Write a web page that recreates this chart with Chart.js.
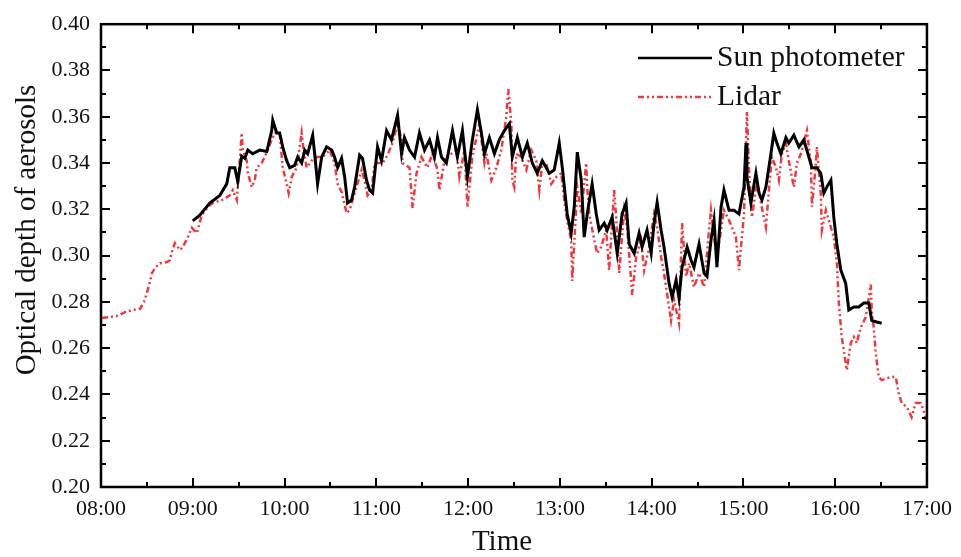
<!DOCTYPE html>
<html>
<head>
<meta charset="utf-8">
<title>Optical depth of aerosols</title>
<script src="https://cdn.jsdelivr.net/npm/chart.js@4/dist/chart.umd.min.js"></script>
<style>
  html, body { margin: 0; padding: 0; background: #fff; }
  #wrap { width: 961px; height: 557px; }
</style>
</head>
<body>
<div id="wrap"><canvas id="aodChart" width="961" height="557"></canvas></div>
<script>
// minutes after 08:00
const sunMinutes = [60, 64.6, 71.1, 77.7, 82.2, 84.2, 87.5, 89.4, 92, 94, 96, 99.2, 103.8, 108.4, 111.6, 112.3, 114.9, 116.8, 118.8, 121.4,
  123.4, 126.6, 128.6, 131.2, 133.2, 135.1, 138.4, 139.7, 141.6, 144.3, 147.5, 150.8, 152.7, 154.7, 157.3, 159.3, 161.2, 163.8, 165.8, 169.1,
  171, 173.6, 175.6, 177.6, 180.8, 183.4, 186.7, 189.9, 193.9, 196.5, 198.4, 201.7, 205, 208.2, 211.5, 214.8, 218, 220, 222.6, 225.8,
  229.8, 233, 236.3, 239.6, 242.8, 246.1, 248.7, 250.7, 253.9, 257.2, 260.4, 263.7, 267, 268.9, 272.2, 275.5, 278.7, 282, 285.2, 288.5,
  293.1, 296.3, 299.6, 301.6, 304.8, 307.4, 309.4, 311.4, 314, 315.9, 317.9, 321.1, 323.8, 325.7, 329, 330.9, 334.2, 337.5, 340.7, 343.3,
  345.3, 348.6, 351.8, 353.8, 357, 359.7, 361.6, 363.6, 366.2, 368.1, 371.4, 373.4, 376, 377.9, 379.9, 383.2, 385.8, 387.7, 391, 394.3,
  396.2, 398.8, 400.8, 402.7, 405.4, 407.3, 410.6, 413.8, 417.1, 420.4, 421.7, 422.3, 424.9, 428.2, 430.2, 432.1, 434.7, 438, 439.9, 441.9,
  444.5, 447.8, 449.7, 453, 456.3, 459.5, 462.8, 464.8, 468, 470.6, 472.6, 474.5, 477.2, 479.1, 481.1, 483.7, 486.9, 488.9, 492.2, 495.4,
  498.7, 502, 503.9, 507.2, 510.4];
const sunAod = [0.315, 0.3175, 0.3227, 0.326, 0.331, 0.338, 0.338, 0.332, 0.343, 0.342, 0.3456, 0.344, 0.3456, 0.345, 0.354, 0.3585, 0.353, 0.353, 0.347, 0.341,
  0.338, 0.339, 0.3426, 0.340, 0.3456, 0.344, 0.352, 0.344, 0.331, 0.3426, 0.347, 0.3456, 0.3426, 0.338, 0.342, 0.334, 0.3227, 0.324, 0.3296, 0.3434,
  0.342, 0.3326, 0.3283, 0.327, 0.347, 0.341, 0.354, 0.35, 0.3607, 0.344, 0.351, 0.3456, 0.3426, 0.353, 0.3456, 0.35, 0.3426, 0.351, 0.3426, 0.34,
  0.354, 0.3426, 0.354, 0.334, 0.35, 0.363, 0.353, 0.344, 0.351, 0.344, 0.35, 0.354, 0.357, 0.3426, 0.351, 0.3426, 0.3486, 0.34, 0.3356, 0.341,
  0.3356, 0.337, 0.3486, 0.338, 0.318, 0.3097, 0.321, 0.3447, 0.3326, 0.308, 0.318, 0.331, 0.318, 0.311, 0.314, 0.311, 0.3166, 0.301, 0.318, 0.3227,
  0.305, 0.301, 0.3097, 0.3037, 0.311, 0.301, 0.314, 0.323, 0.311, 0.3037, 0.288, 0.282, 0.2894, 0.2816, 0.295, 0.3037, 0.298, 0.295, 0.305, 0.2924,
  0.291, 0.3067, 0.3153, 0.295, 0.321, 0.3283, 0.3196, 0.3196, 0.318, 0.3296, 0.3486, 0.334, 0.3227, 0.3356, 0.327, 0.324, 0.3296, 0.344, 0.3529, 0.3486,
  0.344, 0.351, 0.3486, 0.352, 0.347, 0.35, 0.3426, 0.338, 0.338, 0.3356, 0.327, 0.3296, 0.3326, 0.3166, 0.305, 0.2937, 0.288, 0.2765, 0.2778, 0.2778,
  0.2795, 0.2795, 0.272, 0.2713, 0.2708];

const lidarMinutes = [0.7, 5.9, 11.1, 15.7, 20.9, 25.5, 28.1, 30, 32, 33.3, 35.2, 38.5, 43.1, 45, 46.3, 48.3, 51.6, 53.5, 56.8, 59.4,
  62.7, 65.9, 69.8, 73.1, 79, 84.2, 86.2, 88.8, 89.4, 90.7, 92, 92.7, 95.3, 96, 98.6, 100.5, 101.8, 105.1, 109, 111.6,
  113.6, 116.8, 118.8, 121.4, 122.7, 124.7, 127.9, 131.2, 132.5, 134.5, 137.7, 141, 144.9, 149.5, 152.7, 154.7, 157.3, 160.6, 162.5, 165.8,
  170.4, 172.3, 174.3, 176.9, 178.9, 184.1, 187.3, 190.6, 193.9, 196.5, 197.1, 201.7, 203.7, 206.3, 209.5, 213.4, 216.7, 220, 221.3, 224.5,
  229.1, 232.4, 234.3, 237.6, 239.6, 242.8, 247.4, 250.7, 252, 255.2, 258.5, 261.7, 265, 266.3, 268.3, 268.9, 270.2, 271.5, 274.8, 278.1,
  281.3, 284.6, 286.6, 288.5, 291.1, 294.4, 297.7, 300.9, 302.9, 304.8, 307.4, 308.1, 311.4, 314, 317.2, 317.9, 319.2, 322.5, 324.4, 327,
  330.3, 332.2, 335.5, 336.8, 338.8, 342, 344, 347.3, 349.9, 353.1, 355.1, 358.4, 361.6, 363.6, 366.2, 368.1, 371.4, 372.7, 374.7, 377.9,
  379.9, 382.5, 384.5, 387.7, 391, 394.3, 397.5, 398.8, 400.8, 402.7, 405.4, 407.3, 410.6, 415.1, 417.1, 418.4, 420.4, 421.7, 422.3, 423.6,
  425.6, 426.9, 428.9, 431.5, 434.7, 436.7, 438.6, 441.3, 443.2, 445.2, 447.8, 449.7, 451.7, 453, 455, 457.6, 459.5, 461.5, 464.1, 464.8,
  467.4, 468, 470.6, 471.3, 473.9, 475.8, 479.1, 481.1, 482.4, 484.3, 487.6, 490.2, 492.2, 494.1, 496.7, 500, 503.3, 503.9, 505.2, 506.5,
  508.5, 510.4, 516.3, 519.6, 521.5, 523.5, 526.8, 530, 532.6, 535.9, 537.9, 539.2];
const lidarAod = [0.273, 0.2735, 0.274, 0.2756, 0.2765, 0.277, 0.28, 0.2838, 0.2886, 0.2924, 0.2946, 0.2967, 0.2972, 0.298, 0.3015, 0.3054, 0.3024, 0.3037, 0.308, 0.312,
  0.3097, 0.3175, 0.321, 0.3227, 0.324, 0.326, 0.3283, 0.324, 0.3296, 0.341, 0.353, 0.3456, 0.341, 0.3356, 0.3296, 0.3326, 0.338, 0.34, 0.3456, 0.35,
  0.353, 0.353, 0.338, 0.331, 0.327, 0.334, 0.338, 0.353, 0.3456, 0.338, 0.341, 0.3426, 0.3426, 0.3456, 0.34, 0.331, 0.3275, 0.3183, 0.3196, 0.327,
  0.337, 0.3326, 0.326, 0.3283, 0.340, 0.340, 0.3434, 0.3486, 0.357, 0.35, 0.340, 0.338, 0.3205, 0.3356, 0.3426, 0.338, 0.344, 0.337, 0.3283, 0.341,
  0.344, 0.3456, 0.334, 0.3456, 0.321, 0.3426, 0.357, 0.34, 0.344, 0.3326, 0.338, 0.3456, 0.36, 0.372, 0.357, 0.3326, 0.3296, 0.344, 0.3426, 0.337,
  0.3456, 0.341, 0.3283, 0.34, 0.34, 0.331, 0.334, 0.3356, 0.324, 0.315, 0.3067, 0.289, 0.3296, 0.318, 0.34, 0.3296, 0.318, 0.3067, 0.301, 0.3037,
  0.311, 0.2937, 0.3283, 0.3166, 0.2924, 0.3196, 0.3123, 0.283, 0.2993, 0.3067, 0.2937, 0.3037, 0.318, 0.3123, 0.2993, 0.2924, 0.2778, 0.272, 0.2808, 0.2708,
  0.314, 0.291, 0.2967, 0.2864, 0.2924, 0.2864, 0.311, 0.3196, 0.308, 0.2993, 0.311, 0.3196, 0.3153, 0.308, 0.2937, 0.3037, 0.318, 0.3486, 0.362, 0.338,
  0.3166, 0.3227, 0.3326, 0.3227, 0.3123, 0.3283, 0.3426, 0.338, 0.3326, 0.344, 0.3486, 0.341, 0.334, 0.3296, 0.34, 0.344, 0.3486, 0.354, 0.34, 0.321,
  0.34, 0.347, 0.327, 0.311, 0.3196, 0.3153, 0.308, 0.2967, 0.2795, 0.2648, 0.2505, 0.2622, 0.2648, 0.2622, 0.269, 0.2734, 0.2875, 0.2765, 0.269, 0.2579,
  0.2475, 0.2462, 0.2475, 0.2475, 0.2406, 0.2363, 0.2346, 0.2302, 0.2363, 0.2363, 0.233, 0.229];

const seriesNames = ['Sun photometer', 'Lidar'];
const xTitle = 'Time';
const yTitle = 'Optical depth of aerosols';

const toPoints = (xs, ys) => xs.map((x, i) => ({ x: x, y: ys[i] }));

const fmtTime = (m) => {
  const h = 8 + Math.floor(m / 60);
  const mm = Math.round(m % 60);
  return String(h).padStart(2, '0') + ':' + String(mm).padStart(2, '0');
};

const serif = '"Liberation Serif", "DejaVu Serif", serif';
const ink = '#111';
const lidarRed = '#ec3a40';
const lidarDash = [6, 3, 2, 3, 2, 3];

// frame, inward ticks on all four sides, titles and legend
const framePlugin = {
  id: 'frame',
  afterDraw(chart) {
    const { ctx, chartArea: a, scales } = chart;
    const xs = scales.x, ys = scales.y;
    ctx.save();
    ctx.strokeStyle = '#000';
    ctx.lineWidth = 2.5;
    ctx.strokeRect(a.left, a.top, a.right - a.left, a.bottom - a.top);

    ctx.lineWidth = 2;
    ctx.beginPath();
    for (let m = 0; m <= 540; m += 30) {
      const px = Math.round(xs.getPixelForValue(m));
      const len = m % 60 === 0 ? 9 : 5;
      ctx.moveTo(px, a.bottom); ctx.lineTo(px, a.bottom - len);
      ctx.moveTo(px, a.top); ctx.lineTo(px, a.top + len);
    }
    for (let k = 0; k <= 20; k++) {
      const py = Math.round(ys.getPixelForValue(0.2 + k * 0.01));
      const len = k % 2 === 0 ? 9 : 5;
      ctx.moveTo(a.left, py); ctx.lineTo(a.left + len, py);
      ctx.moveTo(a.right, py); ctx.lineTo(a.right - len, py);
    }
    ctx.stroke();

    // axis titles
    ctx.fillStyle = ink;
    ctx.font = '29px ' + serif;
    ctx.textAlign = 'center';
    ctx.textBaseline = 'middle';
    ctx.fillText(xTitle, 502, 542);
    ctx.translate(27, 230);
    ctx.rotate(-Math.PI / 2);
    ctx.fillText(yTitle, 0, 0);
    ctx.restore();

    // legend
    ctx.save();
    const rows = [
      { y: 58, color: '#000', width: 2.5, dash: [] },
      { y: 97, color: lidarRed, width: 2.5, dash: lidarDash }
    ];
    rows.forEach((r, i) => {
      ctx.strokeStyle = r.color;
      ctx.lineWidth = r.width;
      ctx.setLineDash(r.dash);
      ctx.beginPath();
      ctx.moveTo(638, r.y);
      ctx.lineTo(712, r.y);
      ctx.stroke();
      ctx.setLineDash([]);
      ctx.fillStyle = ink;
      ctx.font = '29.5px ' + serif;
      ctx.textAlign = 'left';
      ctx.textBaseline = 'middle';
      ctx.fillText(seriesNames[i], 717, r.y);
    });
    ctx.restore();
  }
};

const chart = new Chart(document.getElementById('aodChart'), {
  type: 'line',
  data: {
    datasets: [
      {
        label: seriesNames[0],
        data: toPoints(sunMinutes, sunAod),
        borderColor: '#000',
        borderWidth: 3,
        pointRadius: 0,
        tension: 0,
        order: 0
      },
      {
        label: seriesNames[1],
        data: toPoints(lidarMinutes, lidarAod),
        borderColor: lidarRed,
        borderWidth: 2.5,
        borderDash: lidarDash,
        pointRadius: 0,
        tension: 0,
        order: 1
      }
    ]
  },
  options: {
    responsive: false,
    animation: false,
    devicePixelRatio: 1,
    layout: { padding: { left: 0, right: 33, top: 24, bottom: 0 } },
    plugins: {
      legend: { display: false },
      tooltip: { enabled: false }
    },
    scales: {
      x: {
        type: 'linear',
        min: 0,
        max: 540,
        grid: { display: false, drawTicks: false },
        border: { display: false },
        afterFit: (s) => { s.height = 70; },
        afterBuildTicks: (s) => {
          s.ticks = [];
          for (let m = 0; m <= 540; m += 60) s.ticks.push({ value: m });
        },
        ticks: {
          autoSkip: false,
          maxRotation: 0,
          padding: 9,
          color: ink,
          font: { family: serif, size: 22 },
          callback: (v) => fmtTime(v)
        }
      },
      y: {
        min: 0.2,
        max: 0.4,
        grid: { display: false, drawTicks: false },
        border: { display: false },
        afterFit: (s) => { s.width = 101; },
        afterBuildTicks: (s) => {
          s.ticks = [];
          for (let k = 0; k <= 10; k++) s.ticks.push({ value: +(0.2 + k * 0.02).toFixed(2) });
        },
        ticks: {
          padding: 11,
          color: ink,
          font: { family: serif, size: 22 },
          callback: (v) => Number(v).toFixed(2)
        }
      }
    }
  },
  plugins: [framePlugin]
});
</script>
</body>
</html>
